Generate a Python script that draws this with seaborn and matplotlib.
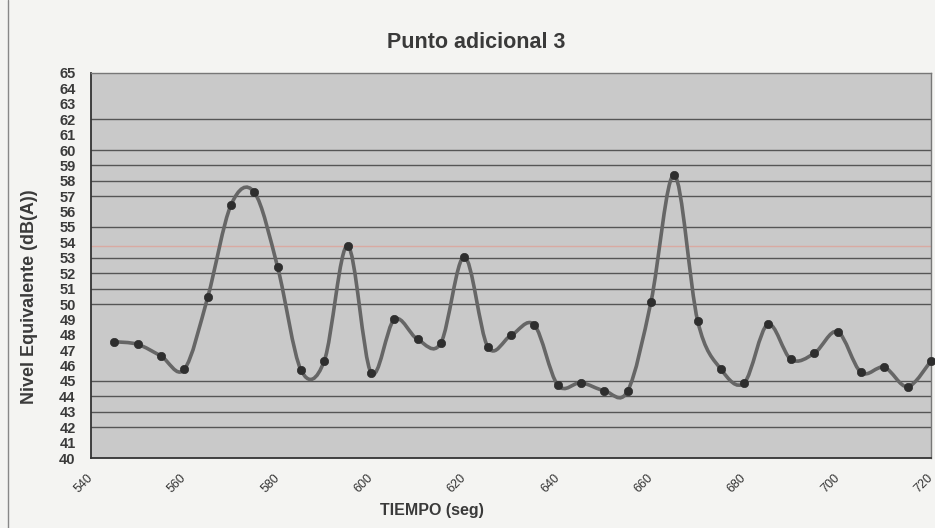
import numpy as np
import pandas as pd
import matplotlib
matplotlib.use("Agg")
import matplotlib.pyplot as plt
from matplotlib.path import Path
from matplotlib.patches import PathPatch
import seaborn as sns

# ---- data ----
tiempo = [545, 550, 555, 560, 565, 570, 575, 580, 585, 590, 595, 600,
          605, 610, 615, 620, 625, 630, 635, 640, 645, 650, 655, 660,
          665, 670, 675, 680, 685, 690, 695, 700, 705, 710, 715, 720]
nivel = [47.55, 47.38, 46.62, 45.76, 50.43, 56.43, 57.25, 52.38, 45.71, 46.32, 53.79, 45.54,
         49.0, 47.7, 47.49, 53.07, 47.23, 47.96, 48.64, 44.74, 44.89, 44.37, 44.35, 50.15,
         58.38, 48.9, 45.76, 44.89, 48.68, 46.4, 46.8, 48.2, 45.56, 45.89, 44.63, 46.3]
x_ticks = [540, 560, 580, 600, 620, 640, 660, 680, 700, 720]
y_ticks = list(range(40, 66))
grid_levels = [42, 43, 44, 45, 50, 51, 52, 53, 55, 57, 58, 59, 60, 62]
title = "Punto adicional 3"
xlabel = "TIEMPO (seg)"
ylabel = "Nivel Equivalente (dB(A))"

df = pd.DataFrame({"tiempo": tiempo, "nivel": nivel})

sns.set_style("white")
plt.rcParams["font.family"] = ["Liberation Sans", "DejaVu Sans"]

fig = plt.figure(figsize=(9.35, 5.28), dpi=100)
fig.patch.set_facecolor("#f4f4f2")
ax = fig.add_axes([91 / 935, 70 / 528, 840 / 935, 385 / 528])
ax.set_facecolor("#c9c9c9")

for g in grid_levels:
    ax.axhline(g, color="#555555", lw=1.0, zorder=1)
ax.axhline(53.75, color="#d9aaa2", lw=1.0, zorder=1)

# smoothed line (Catmull-Rom style bezier through data points)
x = np.asarray(df["tiempo"], float)
y = np.asarray(df["nivel"], float)
n = len(x)
verts = [(x[0], y[0])]
codes = [Path.MOVETO]
for i in range(n - 1):
    p0 = np.array([x[max(i - 1, 0)], y[max(i - 1, 0)]])
    p1 = np.array([x[i], y[i]])
    p2 = np.array([x[i + 1], y[i + 1]])
    p3 = np.array([x[min(i + 2, n - 1)], y[min(i + 2, n - 1)]])
    c1 = p1 + (p2 - p0) / 6.0
    c2 = p2 - (p3 - p1) / 6.0
    verts += [tuple(c1), tuple(c2), tuple(p2)]
    codes += [Path.CURVE4, Path.CURVE4, Path.CURVE4]
ax.add_patch(PathPatch(Path(verts, codes), facecolor="none",
                       edgecolor="#666666", lw=2.6, zorder=3, clip_on=False))

sns.scatterplot(data=df, x="tiempo", y="nivel", ax=ax, color="#2e2e2e",
                s=36, edgecolor="#2e2e2e", linewidth=0.5, zorder=4, clip_on=False)

ax.set_xlim(540, 720)
ax.set_ylim(40, 65)
ax.set_xticks(x_ticks)
ax.set_xticklabels([str(t) for t in x_ticks], rotation=45, ha="right", va="center",
                   rotation_mode="anchor", fontsize=9, color="#333333")
ax.set_yticks(y_ticks)
ax.set_yticklabels([str(t) for t in y_ticks], fontsize=10.5, fontweight="bold",
                   color="#3a3a3a")
ax.tick_params(axis="y", direction="out", length=4, width=1, color="#333333", pad=7)
ax.tick_params(axis="x", direction="out", length=4, width=1, color="#555555", pad=9)

for side in ["left", "bottom"]:
    ax.spines[side].set_color("#333333")
    ax.spines[side].set_linewidth(1.3)
for side in ["top", "right"]:
    ax.spines[side].set_color("#777777")
    ax.spines[side].set_linewidth(1.0)

ax.set_xlabel("")
ax.set_ylabel("")
fig.text(476 / 935, 1 - 43 / 528, title, ha="center", va="center",
         fontsize=15.5, fontweight="bold", color="#3a3a3a")
fig.text(432 / 935, 1 - 511 / 528, xlabel, ha="center", va="center",
         fontsize=11.5, fontweight="bold", color="#3a3a3a")
fig.text(30 / 935, 1 - 297 / 528, ylabel, ha="center", va="center",
         rotation=90, fontsize=13, fontweight="bold", color="#3a3a3a")
fig.add_artist(plt.Line2D([8 / 935, 8 / 935], [0, 1], transform=fig.transFigure,
                          color="#888888", lw=1))

fig.savefig("out.png", dpi=100, facecolor=fig.get_facecolor())
